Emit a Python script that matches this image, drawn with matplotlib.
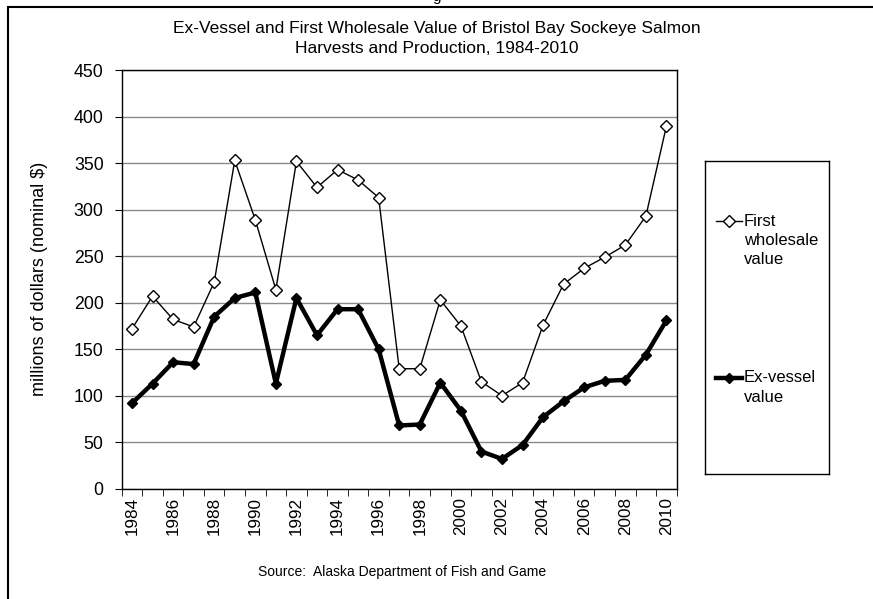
import matplotlib
matplotlib.use("Agg")
import matplotlib.pyplot as plt
from matplotlib.patches import Rectangle
import numpy as np

plt.rcParams['font.family'] = ['Liberation Sans', 'DejaVu Sans']

### data (millions of nominal $)

years = list(range(1984, 2011))
first_wholesale = [172, 207, 182, 174, 222, 353, 289, 214, 352, 324, 343, 332, 313,
                   129, 129, 203, 175, 115, 100, 114, 176, 220, 237, 249, 262, 293, 390]
ex_vessel = [92, 113, 136, 134, 185, 205, 211, 113, 205, 165, 193, 193, 150,
             68, 69, 114, 84, 40, 32, 47, 77, 94, 109, 116, 117, 144, 181]
y_ticks = list(range(0, 451, 50))
year_labels = [str(y) for y in years[::2]]
series_names = ['First\nwholesale\nvalue', 'Ex-vessel\nvalue']

### figure in pixel terms

W, H = 873, 599
fig = plt.figure(figsize=(W / 100, H / 100), dpi=100)


def fx(px):
    return px / W


def fy(py):
    return 1 - py / H


# outer chart frame, runs off the right and bottom edges
fig.add_artist(Rectangle((fx(8), fy(650)), fx(900), fy(7) - fy(650), fill=False,
                         ec='black', lw=1.5, transform=fig.transFigure))
fig.text(fx(437), fy(1), 'g', ha='center', va='baseline', fontsize=11)

ax = fig.add_axes([fx(121.7), fy(488.7), fx(676.7) - fx(121.7), fy(70.2) - fy(488.7)])
x = np.arange(len(years))

ax.plot(x, first_wholesale, color='black', lw=1, marker='D', ms=6,
        mfc='white', mec='black', mew=1, zorder=3)
ax.plot(x, ex_vessel, color='black', lw=3.2, marker='D', ms=5.5,
        mfc='black', mec='black', zorder=4)

ax.set_xlim(-0.5, len(years) - 0.5)
ax.set_ylim(0, 450)
ax.set_yticks(y_ticks)
ax.tick_params(axis='y', length=5, direction='out', labelsize=12.8, pad=8)
ax.set_xticks(x[::2])
ax.set_xticklabels(year_labels, rotation=90, fontsize=12.3)
ax.tick_params(axis='x', which='major', length=0, pad=6)
ax.set_xticks(np.arange(-0.5, len(years), 1), minor=True)
ax.tick_params(axis='x', which='minor', length=5, direction='out')
ax.yaxis.grid(True, color='#8a8a8a', lw=1)
ax.set_axisbelow(True)
for s in ax.spines.values():
    s.set_color('black')
    s.set_linewidth(1)

fig.text(fx(437), fy(38.5), 'Ex-Vessel and First Wholesale Value of Bristol Bay Sockeye Salmon\n'
         'Harvests and Production, 1984-2010', ha='center', va='center',
         fontsize=12.5, linespacing=1.35)
fig.text(fx(40), fy(279), 'millions of dollars (nominal $)', rotation=90,
         ha='center', va='center', fontsize=13)
fig.text(fx(402), fy(572), 'Source:  Alaska Department of Fish and Game',
         ha='center', va='center', fontsize=10)

### legend box drawn by hand (tall Excel style box)

lax = fig.add_axes([fx(705), fy(474), fx(829) - fx(705), fy(161) - fy(474)])
lax.set_xlim(705, 829)
lax.set_ylim(474, 161)
lax.set_xticks([])
lax.set_yticks([])
for s in lax.spines.values():
    s.set_color('black')
    s.set_linewidth(1)

lax.plot([716, 729, 742], [221] * 3, color='black', lw=1, marker='D', ms=6,
         mfc='white', mec='black', mew=1, markevery=[1])
lax.text(744, 240.5, series_names[0], va='center', ha='left', fontsize=12, linespacing=1.35)
lax.plot([716, 729, 742], [378] * 3, color='black', lw=3.2, marker='D', ms=5.5,
         mfc='black', mec='black', markevery=[1])
lax.text(744, 387.5, series_names[1], va='center', ha='left', fontsize=12, linespacing=1.35)

fig.savefig('out.png', dpi=100)
